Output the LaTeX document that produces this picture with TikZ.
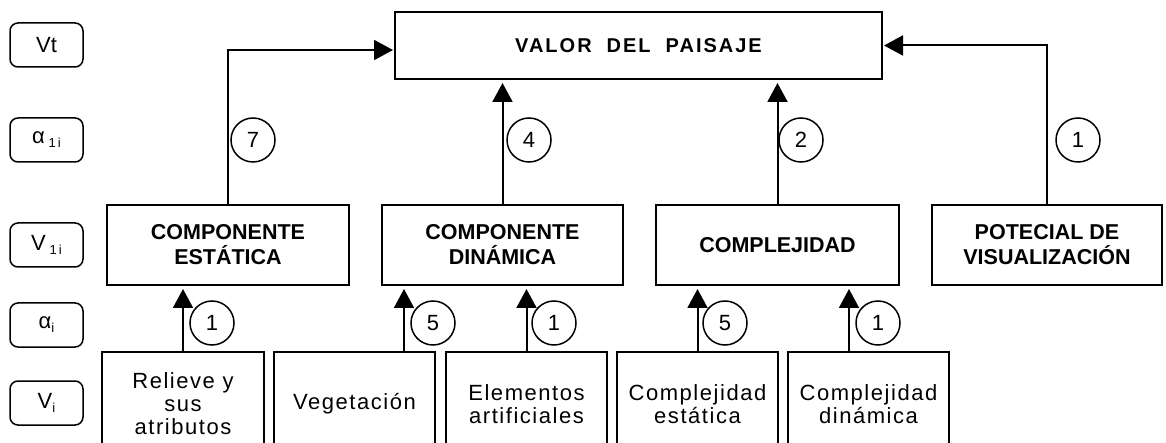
\documentclass[tikz,border=0pt]{standalone}
\usepackage{fontspec}
\setmainfont{Liberation Sans}
\newfontfamily\spacedf[LetterSpace=7]{Liberation Sans}
\newfontfamily\titlef[LetterSpace=10]{Liberation Sans}
\usetikzlibrary{arrows.meta}
\newcommand{\mysub}[1]{\raisebox{-4pt}{\fontsize{13}{13}\selectfont #1}}
\begin{document}
\begin{tikzpicture}[x=1pt,y=-1pt,
  lbl/.style={draw, rounded corners=8pt, minimum width=73pt, minimum height=44pt, line width=1.5pt, inner sep=0pt, font=\fontsize{22}{26}\selectfont},
  mbox/.style={draw, line width=2pt, inner sep=0pt, align=center, minimum height=80pt, font=\bfseries\fontsize{21.5}{25}\selectfont},
  leaf/.style={draw, line width=2pt, inner sep=0pt, align=center, minimum width=161pt, minimum height=104pt, font=\spacedf\fontsize{22}{23}\selectfont},
  wt/.style={draw, circle, line width=1.5pt, minimum size=44pt, inner sep=0pt, font=\fontsize{22}{26}\selectfont},
  arr/.style={line width=2pt, -{Triangle[length=19pt,width=20pt]}, shorten >=3pt}
]
\useasboundingbox (0,0) rectangle (1166,443);
% level labels
\node[lbl] (lVt) at (46.5,45) {Vt};
\node[lbl] (lA1) at (46.5,140) {α\,\mysub{1\,i}};
\node[lbl] (lV1) at (46.5,245) {V\,\mysub{1\,i}};
\node[lbl] (lAi) at (46.5,325) {α\mysub{i}};
\node[lbl] (lVi) at (46.5,403) {V\mysub{i}};
% top
\node[draw, line width=2pt, minimum width=487pt, minimum height=67pt, inner sep=0pt, font=\titlef\bfseries\fontsize{20}{24}\selectfont] (valor) at (638.5,45.5) {VALOR\hspace{15pt}DEL\hspace{15pt}PAISAJE};
% middle
\node[mbox, minimum width=242pt] (ce) at (228,245) {COMPONENTE\\ESTÁTICA};
\node[mbox, minimum width=241pt] (cd) at (502.5,245) {COMPONENTE\\DINÁMICA};
\node[mbox, minimum width=243pt] (cx) at (777.5,245) {COMPLEJIDAD};
\node[mbox, minimum width=230pt] (pv) at (1047,245) {POTECIAL DE\\VISUALIZACIÓN};
% leaves
\node[leaf, minimum width=162pt] (rel) at (183,404) {Relieve y\\sus\\atributos};
\node[leaf] (veg) at (354.5,404) {Vegetación};
\node[leaf] (ele) at (526.5,404) {Elementos\\artificiales};
\node[leaf] (ces) at (697.5,404) {Complejidad\\estática};
\node[leaf] (cdi) at (868.5,404) {Complejidad\\dinámica};
% connectors top
\draw[arr, shorten >=1pt] (ce.north) |- ([yshift=-4.5pt]valor.west);
\draw[arr] (cd.north) -- (cd.north |- valor.south);
\draw[arr] (cx.north) -- (cx.north |- valor.south);
\draw[arr, shorten >=1pt] (pv.north) |- (valor.east);
% connectors bottom
\coordinate (vegx) at (404,352);
\coordinate (cdix) at (849,352);
\draw[arr] (rel.north) -- (rel.north |- ce.south);
\draw[arr] (vegx) -- (vegx |- cd.south);
\draw[arr] (ele.north) -- (ele.north |- cd.south);
\draw[arr] (ces.north) -- (ces.north |- cx.south);
\draw[arr] (cdix) -- (cdix |- cx.south);
% weights
\node[wt] (w7) at (253,140) {7};
\node[wt] (w4) at (529,140) {4};
\node[wt] (w2) at (801,140) {2};
\node[wt] (w1) at (1078,140) {1};
\node[wt] (wa) at (212,323) {1};
\node[wt] (wb) at (433,323) {5};
\node[wt] (wc) at (554,323) {1};
\node[wt] (wd) at (725,323) {5};
\node[wt] (we) at (878,323) {1};
\end{tikzpicture}
\end{document}
